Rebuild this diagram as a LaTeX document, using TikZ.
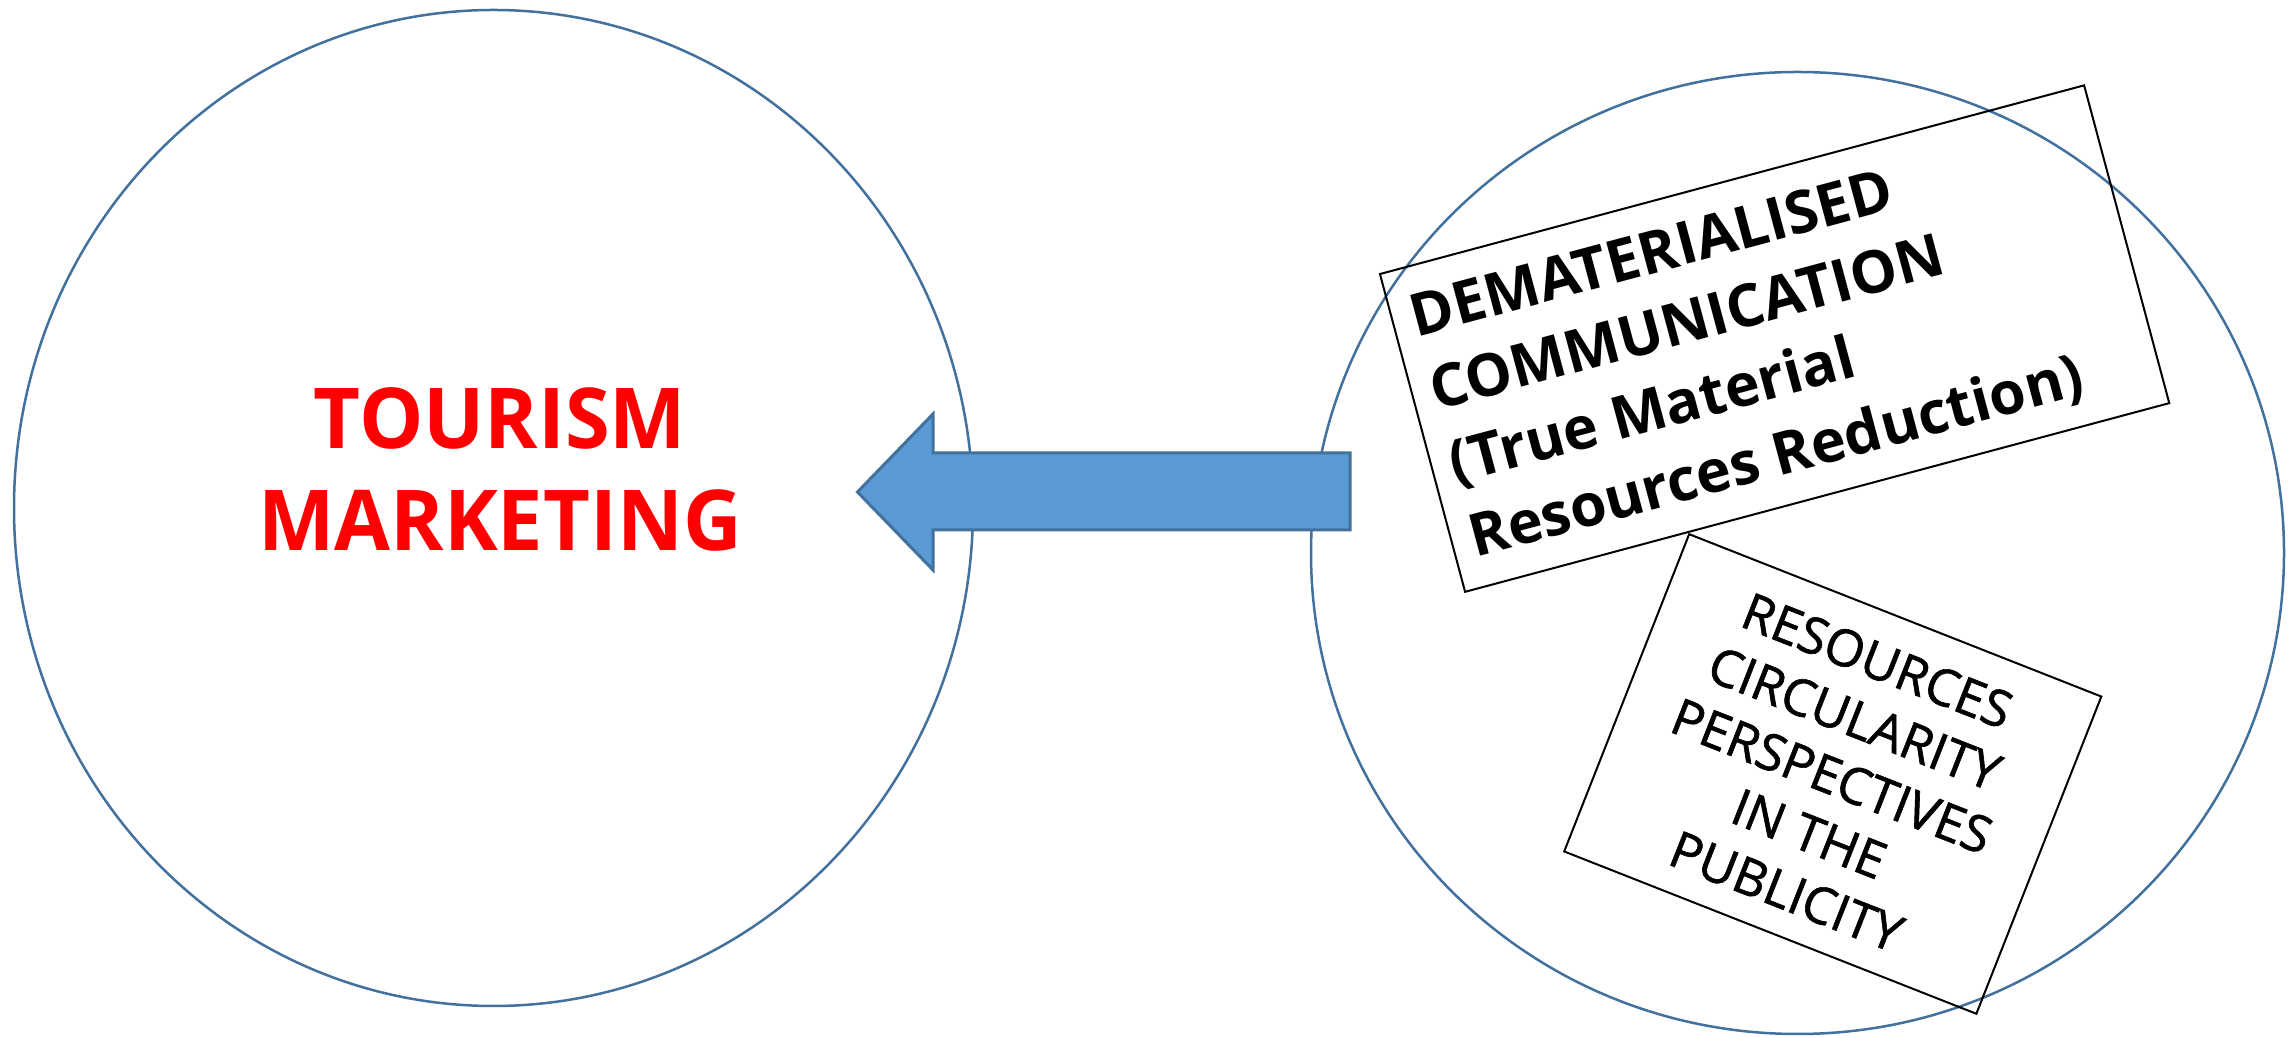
\documentclass[tikz,border=0pt]{standalone}
\usepackage{fontspec}
\setmainfont{Open Sans}
\usetikzlibrary{shapes.geometric}
\definecolor{circblue}{HTML}{41719C}
\definecolor{arrowfill}{HTML}{5B9BD5}
\begin{document}
\begin{tikzpicture}[x=1pt,y=1pt,
  ring/.style={draw=circblue, line width=2.5pt, ellipse, inner sep=0pt, outer sep=0pt},
  frame/.style={draw=black, line width=2pt, rectangle, inner sep=0pt},
  bigarrow/.style={draw=circblue, fill=arrowfill, line width=3pt, line join=miter},
  plain/.style={inner sep=0pt, outer sep=0pt}]
\useasboundingbox (0,0) rectangle (2292,1038);
\fill[white] (0,0) rectangle (2292,1038);
\node[ring, minimum width=959pt, minimum height=996pt] (left) at (493.5,530) {};
\node[ring, minimum width=973pt, minimum height=962pt] (right) at (1797.5,485) {};
\node[plain, font=\bfseries\fontsize{84}{102}\selectfont, text=red, align=center, anchor=north, xscale=0.965] (tm) at (500,650.5) {TOURISM\\MARKETING};
\coordinate (tip) at (857.5,546);
\coordinate (tail) at (1350,546);
\draw[bigarrow] (tip) -- (933,624) -- (933,585) -- (tail |- 0,585) -- (tail |- 0,508) -- (933,508) -- (933,468) -- cycle;
\begin{scope}[shift={(1774.6,699.4)}, rotate=15, transform shape]
  \node[frame, minimum width=729pt, minimum height=329pt] (dm) at (0,0) {};
  \node[plain, font=\bfseries\fontsize{59}{76}\selectfont, align=left, anchor=north west] (dmtext) at (-345.5,136.8) {DEMATERIALISED\\COMMUNICATION\\(True Material\\Resources Reduction)};
\end{scope}
\begin{scope}[shift={(1832.75,264)}, rotate=-21.5, transform shape]
  \node[frame, minimum width=443pt, minimum height=341pt] (rc) at (0,0) {};
  \node[plain, font=\addfontfeatures{FakeBold=1.2}\fontsize{51}{62}\selectfont, align=center, anchor=north] (rctext) at (0,140.5) {RESOURCES\\CIRCULARITY\\PERSPECTIVES\\IN THE\\PUBLICITY};
\end{scope}
\end{tikzpicture}
\end{document}
